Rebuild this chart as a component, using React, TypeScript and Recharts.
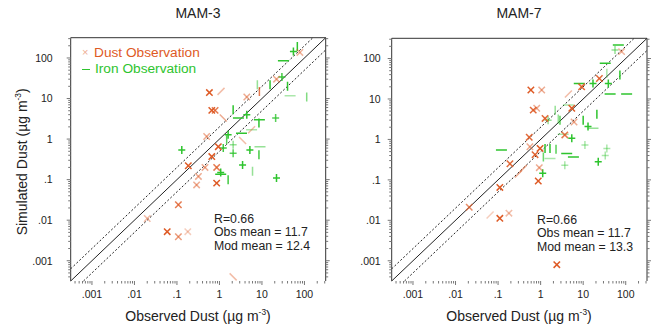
import React from 'react';
import { ScatterChart, Scatter, XAxis, YAxis, ReferenceLine } from 'recharts';

// [observed, simulated, mark, weight]
type Row = [number, number, string, number];

const mam3Dust: Row[] = [
  [78, 137, 'x', 0.45], [22, 30, 'x', 0.5], [0.58, 14, 'x', 1], [1.09, 15, '/', 0.4],
  [4.4, 10.9, 'x', 0.5], [8.7, 15, '|', 0.8], [0.66, 5.1, 'x', 1], [0.79, 5.1, 'x', 0.8],
  [1.23, 3.3, '\\', 0.5], [0.5, 1.16, 'x', 0.5], [5.7, 1.7, '/', 0.4], [3.5, 0.92, '\\', 0.4],
  [0.94, 0.65, 'x', 1], [0.66, 0.37, 'x', 1], [0.185, 0.22, 'x', 1], [0.457, 0.2, 'x', 0.5],
  [0.86, 0.2, 'x', 0.8], [0.32, 0.12, 'x', 0.5], [0.29, 0.074, 'x', 0.5], [0.86, 0.082, 'x', 1],
  [0.108, 0.024, 'x', 0.8], [0.02, 0.011, 'x', 0.4], [0.059, 0.0052, 'x', 1], [0.108, 0.0039, 'x', 0.6],
  [0.18, 0.0052, 'x', 0.3], [2.1, 0.0004, '\\', 0.4],
];

const mam3Iron: Row[] = [
  [55, 145, '+', 1], [68, 193, '|', 1], [32, 85, '-', 1], [29.5, 34, '+', 0.9],
  [15.5, 22, '|', 1], [7.8, 22, '|', 0.5], [40, 20, '|', 1], [113, 10.9, '|', 0.6],
  [46, 11.7, '-', 0.4], [2.1, 5.3, '|', 1], [2.8, 3.3, '-', 1], [4.4, 4, '+', 1],
  [21, 3.3, '+', 0.8], [8.5, 2.5, '|', 1], [8.7, 3, '-', 1], [5.7, 1.7, '-', 0.4],
  [3.3, 1.4, '-', 1], [1.6, 1.27, '+', 1], [1.48, 0.96, '|', 0.8], [2.1, 0.72, '+', 0.5],
  [9, 0.65, '-', 0.5], [5.2, 0.54, '+', 1], [2.1, 0.45, '+', 0.8], [0.13, 0.54, '+', 1],
  [1.23, 0.6, '+', 0.9], [8.5, 0.41, '|', 0.9], [3.5, 0.23, '+', 1], [6, 0.16, '|', 0.5],
  [1.07, 0.15, '+', 1], [1.07, 0.135, '-', 1], [1.6, 0.1, '|', 0.9], [22, 0.109, '+', 1],
];

const mam7Dust: Row[] = [
  [80, 148, 'x', 0.45], [24, 32, 'x', 0.9], [9.2, 20, 'x', 0.9], [0.59, 16.7, 'x', 1],
  [1.06, 16.7, 'x', 0.5], [4.5, 13.3, '/', 0.4], [0.67, 5.3, 'x', 0.9], [0.81, 5.9, 'x', 0.5],
  [1.27, 3.3, 'x', 0.9], [5.4, 5.9, 'x', 1], [6.1, 2.7, 'x', 0.5], [3.7, 1.29, 'x', 0.8],
  [0.54, 1.13, 'x', 0.9], [0.56, 0.66, 'x', 0.5], [0.97, 0.6, 'x', 1], [0.74, 0.42, 'x', 0.9],
  [0.93, 0.2, 'x', 0.5], [0.19, 0.25, 'x', 0.9], [0.39, 0.19, '/', 0.5], [0.3, 0.14, '/', 0.5],
  [0.88, 0.094, 'x', 1], [0.11, 0.065, 'x', 1], [0.021, 0.021, 'x', 0.7], [0.11, 0.0112, 'x', 1],
  [0.18, 0.015, 'x', 0.4], [0.065, 0.0135, '/', 0.3], [2.4, 0.0008, 'x', 1],
];

const mam7Iron: Row[] = [
  [67, 216, '-', 1], [56, 163, '+', 0.5], [33, 76, '-', 1], [36, 43, '|', 0.4],
  [73, 39, '|', 1], [8.1, 24, '-', 1], [17, 24, '+', 1], [39, 24, '+', 1],
  [43, 13.3, '-', 1], [105, 13.3, '-', 1], [4.5, 7.1, '-', 0.4], [2.2, 5.3, '|', 0.5],
  [1.5, 3, '+', 0.5], [2.6, 3.2, '|', 0.5], [2.85, 3, '|', 0.8], [10, 3, '|', 1],
  [21, 4.2, '|', 1], [13, 2.1, '+', 1], [17, 1.9, '-', 0.5], [5.4, 1.07, '+', 1],
  [3.4, 1.34, '-', 0.4], [11, 0.73, '+', 0.4], [36, 0.6, '+', 0.4], [0.12, 0.55, '-', 1],
  [1.27, 0.6, '|', 1], [1.66, 0.6, '|', 1], [2.3, 0.57, '|', 0.8], [4.1, 0.45, '-', 1],
  [5.9, 0.37, '-', 1], [1.16, 0.37, '|', 0.7], [1.66, 0.34, '-', 0.4], [3.7, 0.23, '+', 0.4],
  [1.12, 0.146, '+', 1], [22.6, 0.28, '+', 1], [33, 0.4, '+', 0.4],
];

const majorTicks = [0.001, 0.01, 0.1, 1, 10, 100];
const majorLabels = ['.001', '.01', '.1', '1', '10', '100'];
const decades = [0.0001, 0.001, 0.01, 0.1, 1, 10, 100];
const minorSteps = [2, 3, 4, 5, 6, 7, 8, 9];

const LO = Math.pow(10, -3.5);
const HI = Math.pow(10, 2.5);
const RATIO = 2;

const allTicks = [
  ...majorTicks,
  ...decades.flatMap((d) => minorSteps.map((m) => m * d)).filter((v) => v > LO && v < HI),
];

const DUST = '#de5a25';
const IRON = '#2ec42e';
const AXIS = '#333';
const TICK = '#777';
const FONT = '"Liberation Sans", Arial, Helvetica, sans-serif';

const majorIndex = (v: number) => majorTicks.findIndex((m) => Math.abs(v / m - 1) < 1e-6);

const toPoints = (rows: Row[]) => rows.map(([obs, mod, mark, w]) => ({ obs, mod, mark, w }));

function BottomTick(p: any) {
  const i = majorIndex(p.payload.value);
  const len = i >= 0 ? 4 : 2.5;
  return (
    <g>
      <line x1={p.x} y1={p.y} x2={p.x} y2={p.y + len} stroke={TICK} strokeWidth={1} />
      {i >= 0 && (
        <text x={p.x} y={p.y + 17} textAnchor="middle" fontSize={10.5} fontFamily={FONT} fill="#222">
          {majorLabels[i]}
        </text>
      )}
    </g>
  );
}

function TopTick(p: any) {
  const i = majorIndex(p.payload.value);
  const len = i >= 0 ? 4 : 2.5;
  return <line x1={p.x} y1={p.y} x2={p.x} y2={p.y - len} stroke={TICK} strokeWidth={1} />;
}

function LeftTick(p: any) {
  const i = majorIndex(p.payload.value);
  const len = i >= 0 ? 4 : 2.5;
  return (
    <g>
      <line x1={p.x - len} y1={p.y} x2={p.x} y2={p.y} stroke={TICK} strokeWidth={1} />
      {i >= 0 && (
        <text x={p.x - p.gap} y={p.y + 3.8} textAnchor="end" fontSize={10.5} fontFamily={FONT} fill="#222">
          {majorLabels[i]}
        </text>
      )}
    </g>
  );
}

function RightTick(p: any) {
  const i = majorIndex(p.payload.value);
  const len = i >= 0 ? 4 : 2.5;
  return <line x1={p.x} y1={p.y} x2={p.x + len} y2={p.y} stroke={TICK} strokeWidth={1} />;
}

const markShape = (color: string) => (props: any) => {
  const { cx, cy, payload } = props;
  if (cx == null || cy == null) return <g />;
  const s = { stroke: color, strokeWidth: 1.5, strokeOpacity: payload.w };
  switch (payload.mark) {
    case 'x':
      return (
        <g>
          <line x1={cx - 3.2} y1={cy - 3.2} x2={cx + 3.2} y2={cy + 3.2} {...s} />
          <line x1={cx - 3.2} y1={cy + 3.2} x2={cx + 3.2} y2={cy - 3.2} {...s} />
        </g>
      );
    case '/':
      return <line x1={cx - 3.5} y1={cy + 3.5} x2={cx + 3.5} y2={cy - 3.5} {...s} />;
    case '\\':
      return <line x1={cx - 3.5} y1={cy - 3.5} x2={cx + 3.5} y2={cy + 3.5} {...s} />;
    case '|':
      return <line x1={cx} y1={cy - 4.5} x2={cx} y2={cy + 4.5} {...s} />;
    case '-':
      return <line x1={cx - 5.5} y1={cy} x2={cx + 5.5} y2={cy} {...s} />;
    default:
      return (
        <g>
          <line x1={cx - 3.5} y1={cy} x2={cx + 3.5} y2={cy} {...s} />
          <line x1={cx} y1={cy - 4} x2={cx} y2={cy + 4} {...s} />
        </g>
      );
  }
};

interface PanelProps {
  dust: Row[];
  iron: Row[];
  width: number;
  margin: { top: number; right: number; bottom: number; left: number };
  labelGap: number;
}

function Panel({ dust, iron, width, margin, labelGap }: PanelProps) {
  const common = {
    type: 'number' as const,
    scale: 'log' as const,
    domain: [LO, HI],
    allowDataOverflow: true,
    ticks: allTicks,
    interval: 0,
    tickSize: 0,
    tickMargin: 0,
    tickLine: false,
  };
  return (
    <ScatterChart width={width} height={324} margin={margin}>
      <XAxis xAxisId="b" dataKey="obs" {...common} height={30} axisLine={false} tick={(p: any) => <BottomTick {...p} />} />
      <XAxis xAxisId="t" orientation="top" {...common} height={10} axisLine={{ stroke: AXIS }} tick={(p: any) => <TopTick {...p} />} />
      <YAxis yAxisId="l" dataKey="mod" {...common} width={40} axisLine={{ stroke: AXIS }} tick={(p: any) => <LeftTick {...p} gap={labelGap} />} />
      <YAxis yAxisId="r" orientation="right" {...common} width={10} axisLine={{ stroke: AXIS }} tick={(p: any) => <RightTick {...p} />} />
      <ReferenceLine xAxisId="b" yAxisId="l" ifOverflow="visible" segment={[{ x: LO, y: LO }, { x: HI, y: HI }]} stroke="#222" strokeWidth={1} />
      <ReferenceLine xAxisId="b" yAxisId="l" ifOverflow="visible" segment={[{ x: LO, y: LO * RATIO }, { x: HI / RATIO, y: HI }]} stroke="#222" strokeWidth={1} strokeDasharray="2 2" />
      <ReferenceLine xAxisId="b" yAxisId="l" ifOverflow="visible" segment={[{ x: LO * RATIO, y: LO }, { x: HI, y: HI / RATIO }]} stroke="#222" strokeWidth={1} strokeDasharray="2 2" />
      <Scatter xAxisId="b" yAxisId="l" data={toPoints(iron)} dataKey="mod" shape={markShape(IRON)} isAnimationActive={false} />
      <Scatter xAxisId="b" yAxisId="l" data={toPoints(dust)} dataKey="mod" shape={markShape(DUST)} isAnimationActive={false} />
    </ScatterChart>
  );
}

const units = (
  <>
    (µg m<sup style={{ fontSize: '0.6em' }}>-3</sup>)
  </>
);

function Text({ x, y, size, children, color = '#222', anchor = 'left' }: any) {
  const style: React.CSSProperties = {
    position: 'absolute',
    top: y - size * 0.6,
    fontSize: size,
    lineHeight: `${size * 1.2}px`,
    color,
    whiteSpace: 'nowrap',
    fontFamily: FONT,
  };
  if (anchor === 'left') style.left = x;
  else {
    style.left = x - 200;
    style.width = 400;
    style.textAlign = 'center';
  }
  return <div style={style}>{children}</div>;
}

function Stats({ x, y, mod }: { x: number; y: number; mod: string }) {
  return (
    <>
      <Text x={x} y={y} size={12.3}>R=0.66</Text>
      <Text x={x} y={y + 13.7} size={12.3}>Obs mean = 11.7</Text>
      <Text x={x} y={y + 27.7} size={12.3}>Mod mean = {mod}</Text>
    </>
  );
}

export default function App() {
  return (
    <div style={{ position: 'absolute', left: 0, top: 0, width: 659, height: 324, background: '#fff', overflow: 'hidden' }}>
      <div style={{ position: 'absolute', left: 0, top: 0 }}>
        <Panel dust={mam3Dust} iron={mam3Iron} width={340} margin={{ top: 27.7, right: 4.3, bottom: 13, left: 30.7 }} labelGap={18} />
      </div>
      <div style={{ position: 'absolute', left: 330, top: 0 }}>
        <Panel dust={mam7Dust} iron={mam7Iron} width={329} margin={{ top: 28.3, right: 2, bottom: 13, left: 21.7 }} labelGap={11} />
      </div>

      <Text x={198} y={13} size={14} anchor="center">MAM-3</Text>
      <Text x={519} y={13} size={14} anchor="center">MAM-7</Text>

      <Text x={198} y={312} size={14} anchor="center">Observed Dust {units}</Text>
      <Text x={519} y={312} size={14} anchor="center">Observed Dust {units}</Text>

      <div
        style={{
          position: 'absolute',
          left: 20 - 100,
          top: 159.5 - 9,
          width: 200,
          textAlign: 'center',
          fontSize: 14,
          lineHeight: '18px',
          fontFamily: FONT,
          color: '#222',
          transform: 'rotate(-90deg)',
          whiteSpace: 'nowrap',
        }}
      >
        Simulated Dust {units}
      </div>

      <Text x={82} y={53} size={11} color={DUST}><span style={{ opacity: 0.5 }}>×</span></Text>
      <Text x={94} y={53} size={13.7} color={DUST}>Dust Observation</Text>
      <div style={{ position: 'absolute', left: 82, top: 68.5, width: 8, height: 1.5, background: IRON }} />
      <Text x={95} y={69} size={13.7} color={IRON}>Iron Observation</Text>

      <Stats x={214} y={219} mod="12.4" />
      <Stats x={537} y={220} mod="13.3" />
    </div>
  );
}
